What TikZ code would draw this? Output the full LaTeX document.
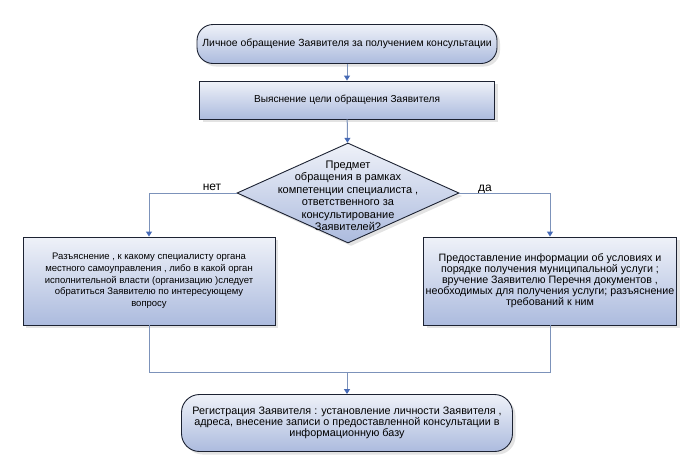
\documentclass[tikz,border=0pt]{standalone}
\usepackage{fontspec}
\setmainfont{Liberation Sans}
\usetikzlibrary{arrows.meta,shapes.geometric,shadows}

\begin{document}
\begin{tikzpicture}[x=1pt,y=-1pt,line width=0.8pt]
\definecolor{boxblue}{RGB}{172,187,222}
\definecolor{edgeblue}{RGB}{124,146,186}
\definecolor{tipblue}{RGB}{70,106,182}
\definecolor{boxline}{RGB}{28,34,50}
\providecommand{\fbody}{\fontsize{9.5}{11.5}\selectfont}
\tikzset{shadebox/.style={draw=boxline,line width=0.9pt,top color=boxblue!20,bottom color=boxblue,drop shadow={shadow xshift=3pt,shadow yshift=-3pt,fill=black!22}},terminal/.style={shadebox,rounded corners=16pt,inner sep=0pt,align=center,font=\fbody},process/.style={shadebox,inner sep=0pt,align=center,font=\fbody},decision/.style={shadebox,diamond,inner sep=0pt},dectext/.style={inner sep=0pt,align=center,font=\fbody},flow/.style={-{Triangle[length=5pt,width=6pt,color=tipblue]},draw=edgeblue,line width=1pt},link/.style={draw=edgeblue,line width=1pt},answer/.style={inner sep=0pt,font=\fontsize{12}{14}\selectfont}}
\useasboundingbox (0,0) rectangle (700,469);
\node[terminal,minimum width=300,minimum height=39,font=\fontsize{10.4}{12}\selectfont] (start) at (347,44) {Личное обращение Заявителя за получением консультации};
\node[process,minimum width=295,minimum height=38,font=\fontsize{10.1}{12}\selectfont] (clarify) at (347,100) {Выяснение цели обращения Заявителя};
\node[decision,minimum width=222,minimum height=100] (dec) at (348,193) {};
\node[dectext,font=\fontsize{11}{12.5}\selectfont] (dectxt) at (348,196) {Предмет\\обращения в рамках\\компетенции специалиста ,\\ответственного за\\консультирование\\Заявителей?};
\node[process,minimum width=252,minimum height=88,font=\fontsize{9.5}{11.7}\selectfont] (lbox) at (149,281) {Разъяснение , к какому специалисту органа\\местного самоуправления , либо в какой орган\\исполнительной власти (организацию )следует\\обратиться Заявителю по интересующему\\вопросу};
\node[process,minimum width=253,minimum height=88,font=\fontsize{10.7}{10.6}\selectfont] (rbox) at (550,281) {\raisebox{5pt}{\begin{tabular}{@{}c@{}}Предоставление информации об условиях и\\порядке получения муниципальной услуги ;\\вручение Заявителю Перечня документов ,\\необходимых для получения услуги; разъяснение\\требований к ним\end{tabular}}};
\node[terminal,minimum width=331,minimum height=57,rounded corners=18pt,font=\fontsize{10.8}{11.3}\selectfont] (final) at (347,423) {Регистрация Заявителя : установление личности Заявителя ,\\адреса, внесение записи о предоставленной консультации в\\информационную базу};
\node[answer] (no) at (212,187) {нет};
\node[answer] (yes) at (485,189) {да};
\coordinate (join) at (347,372);
\draw[flow] (start) -- (clarify);
\draw[flow] (clarify) -- (dec);
\draw[flow] (dec.west) -| (lbox.north);
\draw[flow] (dec.east) -| (rbox.north);
\draw[link] (lbox.south) |- (join);
\draw[link] (rbox.south) |- (join);
\draw[flow] (join) -- (final.north);
\end{tikzpicture}
\end{document}
